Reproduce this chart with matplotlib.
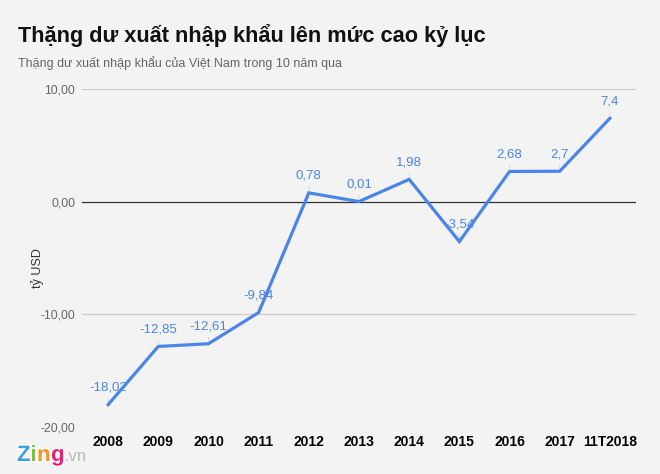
import matplotlib.pyplot as plt
import matplotlib.patheffects as pe
import numpy as np

# số liệu
categories = ['2008', '2009', '2010', '2011', '2012', '2013', '2014',
              '2015', '2016', '2017', '11T2018']
values = [-18.02, -12.85, -12.61, -9.84, 0.78, 0.01, 1.98, -3.54, 2.68, 2.7, 7.4]
value_labels = ['-18,02', '-12,85', '-12,61', '-9,84', '0,78', '0,01', '1,98',
                '-3,54', '2,68', '2,7', '7,4']
y_ticks = [-20, -10, 0, 10]
y_tick_labels = ['-20,00', '-10,00', '0,00', '10,00']

plt.rcParams['font.family'] = ['Liberation Sans', 'DejaVu Sans']

bg = '#f3f3f3'
line_color = '#4a86e8'

fig = plt.figure(figsize=(6.6, 4.74), dpi=100, facecolor=bg)
ax = fig.add_axes([82 / 660, 1 - 427 / 474, (636 - 82) / 660, (427 - 89) / 474])
ax.set_facecolor(bg)

x = np.arange(len(categories))
ax.plot(x, values, color=line_color, linewidth=2.3, solid_joinstyle='miter', zorder=5)

# nhãn giá trị với đường dẫn nhỏ
for xi, v, lab in zip(x, values, value_labels):
    ax.annotate('', xy=(xi, v), xytext=(0, 7), textcoords='offset points',
                arrowprops=dict(arrowstyle='-', color='#d8d8d8', lw=0.6), zorder=3)
    ax.annotate(lab, xy=(xi, v), xytext=(0, 8), textcoords='offset points',
                ha='center', va='bottom', fontsize=9.5, color=line_color, zorder=6)

ax.set_xlim(-0.52, 10.52)
ax.set_ylim(-20, 10)
ax.set_yticks(y_ticks)
ax.set_yticklabels(y_tick_labels, color='#666666', fontsize=8.8)
ax.set_xticks(x)
ax.set_xticklabels(categories, fontsize=10, fontweight='bold', color='black')
ax.tick_params(axis='both', length=0)
ax.tick_params(axis='y', pad=5)
ax.tick_params(axis='x', pad=6)

for t in y_ticks:
    if t == 0:
        ax.axhline(t, color='#333333', linewidth=0.9, zorder=2)
    else:
        ax.axhline(t, color='#cccccc', linewidth=0.9, zorder=1)

for s in ax.spines.values():
    s.set_visible(False)

ax.set_ylabel('tỷ USD', fontsize=9, color='#333333')
ax.yaxis.set_label_coords(-0.068, 0.47)

# tiêu đề
fig.text(18 / 660, 1 - 42 / 474, 'Thặng dư xuất nhập khẩu lên mức cao kỷ lục',
         fontsize=15.7, fontweight='bold', color='#111111', va='baseline')
fig.text(18 / 660, 1 - 67 / 474, 'Thặng dư xuất nhập khẩu của Việt Nam trong 10 năm qua',
         fontsize=9, color='#666666', va='baseline')

# logo
logo_x = 17 / 660
logo_y = 1 - 461 / 474
outline = [pe.withStroke(linewidth=2.5, foreground='white')]
for ch, col, dx in [('Z', '#3aa0e0', 0), ('i', '#7cc242', 13), ('n', '#f7941d', 20),
                    ('g', '#ec1e79', 34)]:
    fig.text(logo_x + dx / 660, logo_y, ch, fontsize=16, fontweight='bold', color=col,
             va='baseline', path_effects=outline)
fig.text(logo_x + 48 / 660, logo_y, '.vn', fontsize=12, color='#b8b8b8', va='baseline')

fig.savefig('out.png', dpi=100, facecolor=bg)
